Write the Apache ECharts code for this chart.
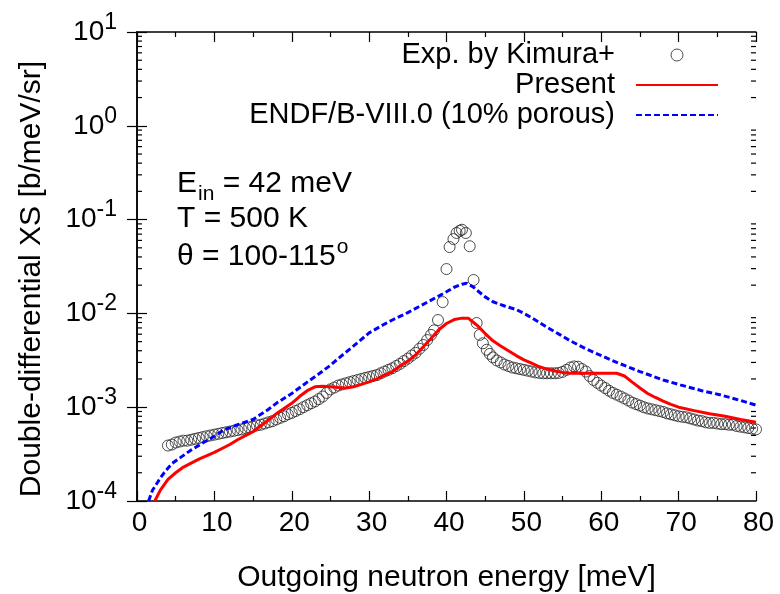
<!DOCTYPE html>
<html>
<head>
<meta charset="utf-8">
<title>DDXS</title>
<script src="https://cdn.jsdelivr.net/npm/echarts@6/dist/echarts.min.js"></script>
<style>
  html, body { margin: 0; height: 100%; background: #fff; }
  #main { width: 780px; height: 594px; }
</style>
</head>
<body>
<div id="main"></div>
<script>
// experimental points (Kimura+)
var expX = [4.0, 4.5, 5.0, 5.5, 6.0, 6.5, 7.0, 7.5, 8.0, 8.5, 9.0, 9.5, 10.0, 10.5, 11.0, 11.5, 12.0, 12.5, 13.0, 13.5,
  14.0, 14.5, 15.0, 15.5, 16.0, 16.5, 17.0, 17.5, 18.0, 18.5, 19.0, 19.5, 20.0, 20.5, 21.0, 21.5, 22.0, 22.5, 23.0, 23.5,
  24.0, 24.5, 25.0, 25.5, 26.0, 26.5, 27.0, 27.5, 28.0, 28.5, 29.0, 29.5, 30.0, 30.5, 31.0, 31.5, 32.0, 32.5, 33.0, 33.5,
  34.0, 34.5, 35.0, 35.5, 36.0, 36.5, 37.0, 37.5, 38.0, 38.4, 38.9, 39.5, 40.0, 40.4, 40.9, 41.3, 41.7, 42.0, 42.5, 43.0,
  43.5, 43.9, 44.3, 44.7, 45.2, 45.6, 46.0, 46.5, 47.0, 47.5, 48.0, 48.5, 49.0, 49.5, 50.0, 50.5, 51.0, 51.5, 52.0, 52.5,
  53.0, 53.5, 54.0, 54.5, 55.0, 55.5, 56.0, 56.5, 57.0, 57.5, 58.0, 58.5, 59.0, 59.5, 60.0, 60.5, 61.0, 61.5, 62.0, 62.5,
  63.0, 63.5, 64.0, 64.5, 65.0, 65.5, 66.0, 66.5, 67.0, 67.5, 68.0, 68.5, 69.0, 69.5, 70.0, 70.5, 71.0, 71.5, 72.0, 72.5,
  73.0, 73.5, 74.0, 74.5, 75.0, 75.5, 76.0, 76.5, 77.0, 77.5, 78.0, 78.5, 79.0, 79.5, 80.0];
var expY = [3.9e-4, 4.0e-4, 4.2e-4, 4.3e-4, 4.4e-4, 4.4e-4, 4.5e-4, 4.6e-4, 4.7e-4, 4.8e-4, 4.9e-4, 5.0e-4, 5.1e-4, 5.2e-4, 5.3e-4, 5.4e-4, 5.5e-4, 5.6e-4, 5.7e-4, 5.8e-4,
  6.0e-4, 6.1e-4, 6.2e-4, 6.4e-4, 6.5e-4, 6.7e-4, 6.9e-4, 7.1e-4, 7.4e-4, 7.7e-4, 8.0e-4, 8.4e-4, 8.7e-4, 9.1e-4, 9.5e-4, 1.0e-3, 1.05e-3, 1.1e-3, 1.15e-3, 1.22e-3,
  1.3e-3, 1.42e-3, 1.55e-3, 1.62e-3, 1.7e-3, 1.75e-3, 1.8e-3, 1.85e-3, 1.9e-3, 1.95e-3, 2.0e-3, 2.05e-3, 2.1e-3, 2.15e-3, 2.2e-3, 2.3e-3, 2.4e-3, 2.5e-3, 2.6e-3, 2.75e-3,
  2.9e-3, 3.1e-3, 3.3e-3, 3.55e-3, 3.8e-3, 4.2e-3, 4.6e-3, 5.2e-3, 5.9e-3, 6.6e-3, 8.5e-3, 1.32e-2, 2.97e-2, 5.1e-2, 6.2e-2, 7.2e-2, 7.6e-2, 7.8e-2, 7.2e-2, 5.2e-2,
  2.27e-2, 7.9e-3, 5.9e-3, 4.8e-3, 4.1e-3, 3.7e-3, 3.4e-3, 3.15e-3, 3.0e-3, 2.85e-3, 2.75e-3, 2.65e-3, 2.6e-3, 2.55e-3, 2.5e-3, 2.45e-3, 2.4e-3, 2.35e-3, 2.32e-3, 2.3e-3,
  2.3e-3, 2.3e-3, 2.3e-3, 2.32e-3, 2.38e-3, 2.5e-3, 2.65e-3, 2.72e-3, 2.7e-3, 2.55e-3, 2.4e-3, 2.15e-3, 1.95e-3, 1.82e-3, 1.7e-3, 1.6e-3, 1.5e-3, 1.42e-3, 1.36e-3, 1.3e-3,
  1.24e-3, 1.18e-3, 1.12e-3, 1.08e-3, 1.04e-3, 1.0e-3, 9.7e-4, 9.5e-4, 9.3e-4, 9.1e-4, 8.9e-4, 8.6e-4, 8.4e-4, 8.2e-4, 8.0e-4, 7.9e-4, 7.8e-4, 7.6e-4, 7.4e-4, 7.2e-4,
  7.1e-4, 6.9e-4, 6.8e-4, 6.8e-4, 6.7e-4, 6.6e-4, 6.6e-4, 6.5e-4, 6.5e-4, 6.3e-4, 6.2e-4, 6.1e-4, 6.0e-4, 5.9e-4, 5.8e-4];

// present evaluation
var presentX = [2.3, 3.0, 4.0, 5.0, 6.0, 8.0, 10.0, 12.0, 13.0, 15.0, 17.0, 18.0, 20.0, 21.0, 22.0, 23.0, 24.0, 25.0, 26.0, 27.0,
  28.0, 29.0, 30.0, 31.0, 32.0, 33.0, 34.0, 35.0, 36.0, 37.0, 38.0, 39.0, 40.0, 41.0, 42.0, 42.8, 43.5, 44.0, 45.0, 46.0,
  47.0, 48.0, 49.0, 50.0, 51.0, 52.0, 53.0, 54.0, 55.0, 56.0, 58.0, 60.0, 62.0, 63.0, 64.0, 65.0, 66.0, 67.0, 68.0, 69.0,
  70.0, 72.0, 74.0, 76.0, 78.0, 80.0];
var presentY = [1.0e-4, 1.3e-4, 1.7e-4, 2.0e-4, 2.3e-4, 2.8e-4, 3.3e-4, 4.0e-4, 4.5e-4, 5.5e-4, 7.3e-4, 8.5e-4, 1.1e-3, 1.3e-3, 1.5e-3, 1.65e-3, 1.67e-3, 1.65e-3, 1.62e-3, 1.6e-3,
  1.65e-3, 1.75e-3, 1.86e-3, 2.0e-3, 2.2e-3, 2.4e-3, 2.75e-3, 3.1e-3, 3.6e-3, 4.4e-3, 5.4e-3, 6.7e-3, 7.8e-3, 8.6e-3, 8.9e-3, 8.9e-3, 8.0e-3, 7.4e-3, 6.1e-3, 5.1e-3,
  4.5e-3, 4.0e-3, 3.55e-3, 3.2e-3, 2.95e-3, 2.7e-3, 2.55e-3, 2.43e-3, 2.35e-3, 2.3e-3, 2.3e-3, 2.3e-3, 2.3e-3, 2.15e-3, 1.85e-3, 1.6e-3, 1.4e-3, 1.27e-3, 1.16e-3, 1.07e-3,
  1.0e-3, 9.2e-4, 8.5e-4, 8.0e-4, 7.4e-4, 6.9e-4];

// ENDF/B-VIII.0 (10% porous)
var endfX = [1.5, 2.0, 3.0, 3.5, 4.5, 5.6, 7.0, 8.6, 10.0, 11.2, 13.0, 15.0, 17.0, 18.0, 20.0, 22.0, 23.3, 25.0, 26.0, 28.0,
  30.0, 32.0, 33.0, 35.0, 37.0, 38.8, 40.0, 41.0, 42.0, 42.6, 43.5, 44.3, 45.0, 46.0, 47.5, 49.0, 50.0, 51.0, 52.0, 53.0,
  54.7, 56.0, 58.0, 60.0, 62.0, 65.0, 68.0, 70.2, 73.0, 75.3, 78.0, 80.0];
var endfY = [1.0e-4, 1.3e-4, 1.75e-4, 2.0e-4, 2.5e-4, 2.9e-4, 3.5e-4, 4.2e-4, 4.9e-4, 5.7e-4, 6.5e-4, 7.4e-4, 9.5e-4, 1.1e-3, 1.4e-3, 1.85e-3, 2.2e-3, 2.8e-3, 3.3e-3, 4.5e-3,
  6.2e-3, 7.7e-3, 8.5e-3, 1.02e-2, 1.25e-2, 1.5e-2, 1.7e-2, 1.9e-2, 2.05e-2, 2.1e-2, 1.9e-2, 1.67e-2, 1.5e-2, 1.33e-2, 1.2e-2, 1.1e-2, 1.0e-2, 9.0e-3, 8.0e-3, 7.1e-3,
  5.9e-3, 5.1e-3, 4.2e-3, 3.55e-3, 3.0e-3, 2.4e-3, 1.95e-3, 1.73e-3, 1.5e-3, 1.36e-3, 1.18e-3, 1.05e-3];

var xTicks = [0, 10, 20, 30, 40, 50, 60, 70, 80];
var yDecades = [-4, -3, -2, -1, 0, 1];

function pairs(xs, ys) {
  var out = [];
  for (var i = 0; i < xs.length; i++) out.push([xs[i], ys[i]]);
  return out;
}

var FONT = '"Liberation Sans", Arial, Helvetica, sans-serif';
var myChart = echarts.init(document.getElementById('main'), null, {renderer: 'canvas'});

var yLabel = {
  show: true,
  margin: 20,
  formatter: function (v) {
    var e = Math.round(Math.log(v) / Math.LN10);
    return '{b|10}{s|' + e + '}';
  },
  rich: {
    b: {fontSize: 28, fontFamily: FONT, color: '#000', lineHeight: 42},
    s: {fontSize: 23, fontFamily: FONT, color: '#000', lineHeight: 16, verticalAlign: 'top'}
  }
};

var axisLineStyle = {show: true, lineStyle: {color: '#000', width: 1.5}};

var option = {
  animation: false,
  backgroundColor: '#fff',
  grid: {left: 137, right: 24, top: 32, bottom: 93, containLabel: false},
  legend: {
    orient: 'vertical',
    align: 'right',
    right: 56,
    top: 35,
    itemWidth: 82,
    itemHeight: 12,
    itemGap: 0,
    textStyle: {fontSize: 29, fontFamily: FONT, color: '#000', lineHeight: 30, padding: [0, 16, 0, 0]},
    data: [
      {name: 'Exp. by Kimura+', icon: 'circle', itemStyle: {color: 'rgba(0,0,0,0)', borderColor: '#222', borderWidth: 1}},
      {name: 'Present', itemStyle: {opacity: 0}},
      {name: 'ENDF/B-VIII.0 (10% porous)', itemStyle: {opacity: 0}}
    ]
  },
  xAxis: [{
    type: 'value', min: 0, max: 80, interval: 10,
    axisLine: axisLineStyle,
    axisTick: {show: true, inside: true, length: 10, lineStyle: {color: '#000', width: 1.2}},
    minorTick: {show: true, splitNumber: 2, length: 5, lineStyle: {color: '#000', width: 1.2}},
    splitLine: {show: false},
    axisLabel: {margin: 8, fontSize: 28, fontFamily: FONT, color: '#000', lineHeight: 28, padding: [0, 0, 0, 5],
      formatter: function (v) { return xTicks.indexOf(v) >= 0 ? String(v) : ''; }}
  }, {
    type: 'value', min: 0, max: 80, interval: 10, position: 'top',
    axisLine: axisLineStyle,
    axisTick: {show: true, inside: true, length: 10, lineStyle: {color: '#000', width: 1.2}},
    minorTick: {show: true, splitNumber: 2, length: 5, lineStyle: {color: '#000', width: 1.2}},
    splitLine: {show: false},
    axisLabel: {show: false}
  }],
  yAxis: [{
    type: 'log', logBase: 10, min: 1e-4, max: 10, interval: 1,
    axisLine: axisLineStyle,
    axisTick: {show: true, inside: true, length: 10, lineStyle: {color: '#000', width: 1.2}},
    splitLine: {show: false},
    axisLabel: yLabel
  }, {
    type: 'log', logBase: 10, min: 1e-4, max: 10, interval: 1, position: 'right',
    axisLine: axisLineStyle,
    axisTick: {show: true, inside: true, length: 10, lineStyle: {color: '#000', width: 1.2}},
    splitLine: {show: false},
    axisLabel: {show: false}
  }],
  series: [{
    name: 'Exp. by Kimura+',
    type: 'scatter',
    data: pairs(expX, expY),
    symbol: 'circle',
    symbolSize: 11,
    itemStyle: {color: 'rgba(0,0,0,0)', borderColor: '#222', borderWidth: 1},
    z: 3
  }, {
    name: 'Present',
    type: 'line',
    data: pairs(presentX, presentY),
    showSymbol: false,
    symbol: 'none',
    clip: true,
    lineStyle: {color: '#ff0000', width: 3},
    itemStyle: {color: '#ff0000'},
    z: 4
  }, {
    name: 'ENDF/B-VIII.0 (10% porous)',
    type: 'line',
    data: pairs(endfX, endfY),
    showSymbol: false,
    symbol: 'none',
    clip: true,
    lineStyle: {color: '#0000ff', width: 3, type: [6, 3]},
    itemStyle: {color: '#0000ff'},
    z: 4
  }]
};
myChart.setOption(option);

// log minor ticks, annotation texts and axis titles
var ctx = document.createElement('canvas').getContext('2d');
function textW(str, size) {
  ctx.font = size + 'px ' + FONT;
  return ctx.measureText(str).width;
}

var gx0 = myChart.convertToPixel({xAxisIndex: 0}, 0);
var gx1 = myChart.convertToPixel({xAxisIndex: 0}, 80);
var gfx = [];
for (var d = 0; d < yDecades.length - 1; d++) {
  for (var k = 2; k <= 9; k++) {
    var py = myChart.convertToPixel({yAxisIndex: 0}, k * Math.pow(10, yDecades[d]));
    gfx.push({type: 'line', silent: true, shape: {x1: gx0, y1: py, x2: gx0 + 5, y2: py}, style: {stroke: '#000', lineWidth: 1.2}});
    gfx.push({type: 'line', silent: true, shape: {x1: gx1 - 5, y1: py, x2: gx1, y2: py}, style: {stroke: '#000', lineWidth: 1.2}});
  }
}

var tx = 177;
var big = 30, small = 21;
var txtStyle = function (t, x, y, size) {
  return {type: 'text', silent: true, x: x, y: y,
    style: {text: t, fontSize: size, fontFamily: FONT, fill: '#000', verticalAlign: 'middle', align: 'left'}};
};
gfx.push(txtStyle('E', tx, 184, big));
var wE = textW('E', big);
gfx.push(txtStyle('in', tx + wE + 1, 194, small));
var wIn = textW('in', small);
gfx.push(txtStyle(' = 42 meV', tx + wE + 1 + wIn, 184, big));
gfx.push(txtStyle('T = 500 K', tx, 219, big));
gfx.push(txtStyle('\u03b8 = 100-115', tx, 257, big));
gfx.push(txtStyle('o', tx + textW('\u03b8 = 100-115', big) + 1, 247, small));

gfx.push({type: 'text', silent: true, x: (gx0 + gx1) / 2, y: 578,
  style: {text: 'Outgoing neutron energy [meV]', fontSize: 30, fontFamily: FONT, fill: '#000', align: 'center', verticalAlign: 'middle'}});
gfx.push({type: 'text', silent: true, x: 32, y: 279, rotation: Math.PI / 2,
  style: {text: 'Double-differential XS [b/meV/sr]', fontSize: 30, fontFamily: FONT, fill: '#000', align: 'center', verticalAlign: 'middle'}});

myChart.setOption({graphic: gfx});
</script>
</body>
</html>
